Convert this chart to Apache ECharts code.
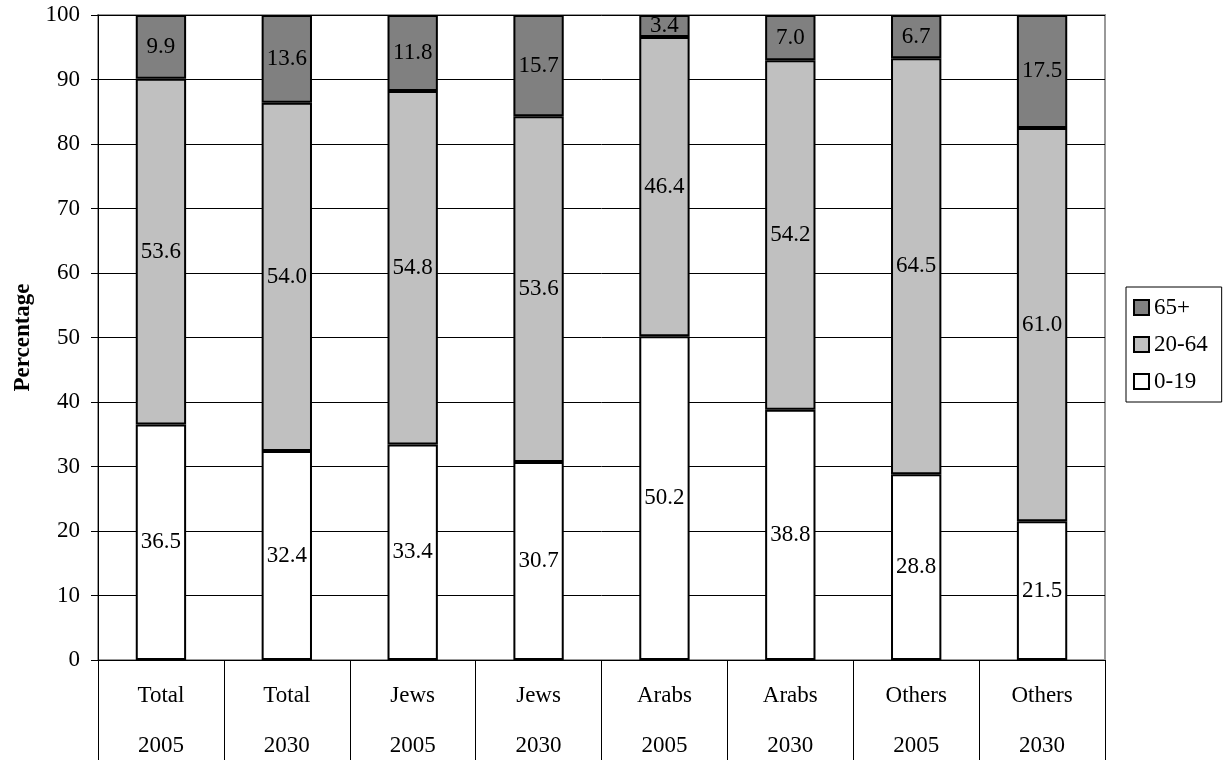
<!DOCTYPE html>
<html>
<head>
<meta charset="utf-8">
<script src="https://cdn.jsdelivr.net/npm/echarts@6/dist/echarts.min.js"></script>
<style>html,body{margin:0;padding:0;background:#fff;}#chart{width:1231px;height:771px;}</style>
</head>
<body>
<div id="chart"></div>
<script>
var groups = ['Total','Total','Jews','Jews','Arabs','Arabs','Others','Others'];
var years = ['2005','2030','2005','2030','2005','2030','2005','2030'];
var age0to19 = [36.5, 32.4, 33.4, 30.7, 50.2, 38.8, 28.8, 21.5];
var age20to64 = [53.6, 54.0, 54.8, 53.6, 46.4, 54.2, 64.5, 61.0];
var age65plus = [9.9, 13.6, 11.8, 15.7, 3.4, 7.0, 6.7, 17.5];
var yTicks = [0,10,20,30,40,50,60,70,80,90,100];

var categories = groups.map(function(g, i){ return g + '\n' + years[i]; });
var FONT = '"Liberation Serif", "Times New Roman", serif';
var FS = 23;

var chart = echarts.init(document.getElementById('chart'), null, {renderer:'canvas'});
function mkSeries(name, data, color){
  return {
    name: name, type: 'bar', stack: 'all', data: data, barWidth: '40%',
    itemStyle: {color: color, borderColor: '#000', borderWidth: 2},
    label: {show: true, position: 'inside', color: '#000', fontFamily: FONT, fontSize: FS,
      formatter: function(p){ return p.value.toFixed(1); }},
    emphasis: {disabled: true}
  };
}
chart.setOption({
  backgroundColor: '#fff',
  animation: false,
  grid: {left: 98, right: 126, top: 15, bottom: 100, show: true, borderColor: '#999', borderWidth: 2, backgroundColor: 'transparent'},
  legend: {
    orient: 'vertical', left: 1126, top: 287,
    data: ['65+','20-64','0-19'],
    icon: 'rect', itemWidth: 15, itemHeight: 15, itemGap: 14,
    padding: [9, 14, 9, 7],
    borderColor: '#000', borderWidth: 1,
    textStyle: {fontFamily: FONT, fontSize: FS, color: '#000', padding: [0,0,0,0]},
    selectedMode: false
  },
  xAxis: {
    type: 'category', data: categories,
    axisLine: {show: true, lineStyle: {color: '#000', width: 1}},
    axisTick: {show: true, alignWithLabel: false, interval: 0, length: 100, lineStyle: {color: '#000', width: 1}},
    axisLabel: {interval: 0, margin: 11, lineHeight: 50, fontFamily: FONT, fontSize: FS, color: '#000'}
  },
  yAxis: {
    type: 'value', min: 0, max: 100, interval: 10,
    name: 'Percentage', nameLocation: 'middle', nameGap: 63, nameRotate: 90,
    nameTextStyle: {fontFamily: FONT, fontSize: FS, fontWeight: 'bold', color: '#000'},
    axisLine: {show: true, lineStyle: {color: '#000', width: 1}},
    axisTick: {show: true, inside: false, length: 7, lineStyle: {color: '#000'}},
    axisLabel: {margin: 18, fontFamily: FONT, fontSize: FS, color: '#000',
      formatter: function(v){ return yTicks.indexOf(v) >= 0 ? String(v) : ''; }},
    splitLine: {show: true, lineStyle: {color: '#000', width: 1}}
  },
  series: [
    mkSeries('0-19', age0to19, '#ffffff'),
    mkSeries('20-64', age20to64, '#c0c0c0'),
    mkSeries('65+', age65plus, '#808080')
  ]
});
</script>
</body>
</html>
